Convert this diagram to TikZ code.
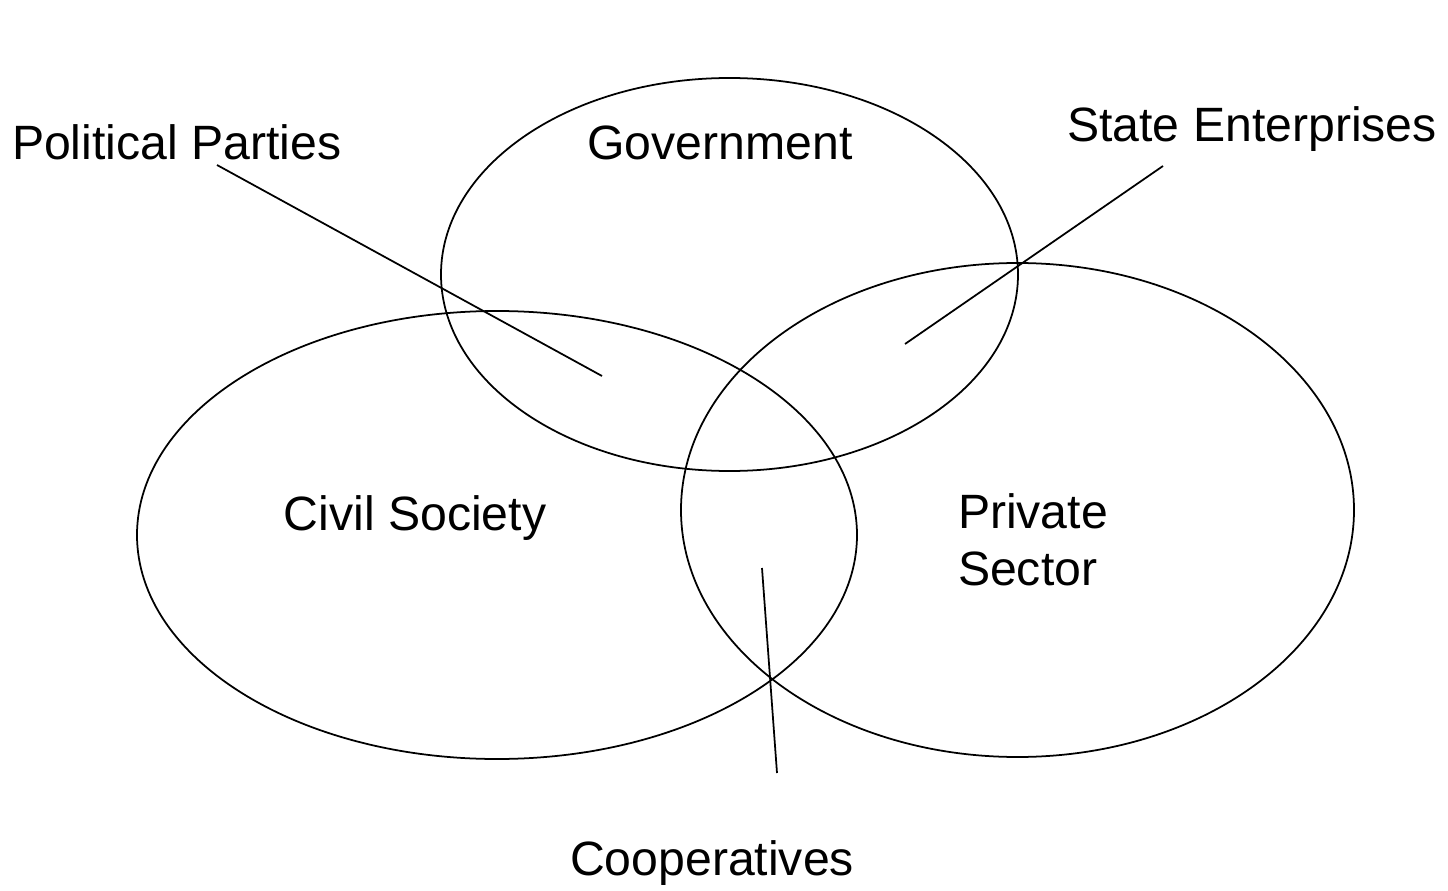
\documentclass[tikz,border=0pt]{standalone}
\usepackage{fontspec}
\setmainfont{Liberation Sans}
\usetikzlibrary{positioning}
\newcommand*{\labelfont}{\fontsize{13.7}{16.2}\selectfont}
\tikzstyle{base}=[x=0.01cm, y=-0.01cm, inner sep=0pt, outer sep=0pt]
\tikzstyle{sector}=[black, line width=0.5pt]
\tikzstyle{link}=[black, line width=0.5pt]
\tikzstyle{label}=[font=\labelfont, anchor=base]

\begin{document}
\begin{tikzpicture}[base]
    \path [use as bounding box] (0,0) rectangle (1448,891);
        % the three sectors
        \draw [sector] (729.5,274.5) ellipse [x radius=288.5, y radius=196.5];
        \draw [sector] (497,535) ellipse [x radius=360, y radius=224];
        \draw [sector] (1017.5,510) ellipse [x radius=336.5, y radius=247];
        \node [label] (gov) at (720,160) {Government};
        \node [label] (cs) at (415,530) {Civil Society};
        \node [label, anchor=base west, align=left] (ps) at (958,585) {Private\\Sector};
        % overlaps
        \node [label, anchor=base west] (pp) at (12,160) {Political Parties};
        \node [label] (se) at (1252,142) {State Enterprises};
        \node [label] (coop) at (712,875) {Cooperatives};
        \coordinate (ppstart) at (217,165);
        \coordinate (ppend) at (602,376);
        \coordinate (sestart) at (1163,166);
        \coordinate (seend) at (905,344);
        \coordinate (coopstart) at (777,773);
        \coordinate (coopend) at (762,568);
        \draw [link] (ppstart) -- (ppend);
        \draw [link] (sestart) -- (seend);
        \draw [link] (coopstart) -- (coopend);
    \end{tikzpicture}
\end{document}
